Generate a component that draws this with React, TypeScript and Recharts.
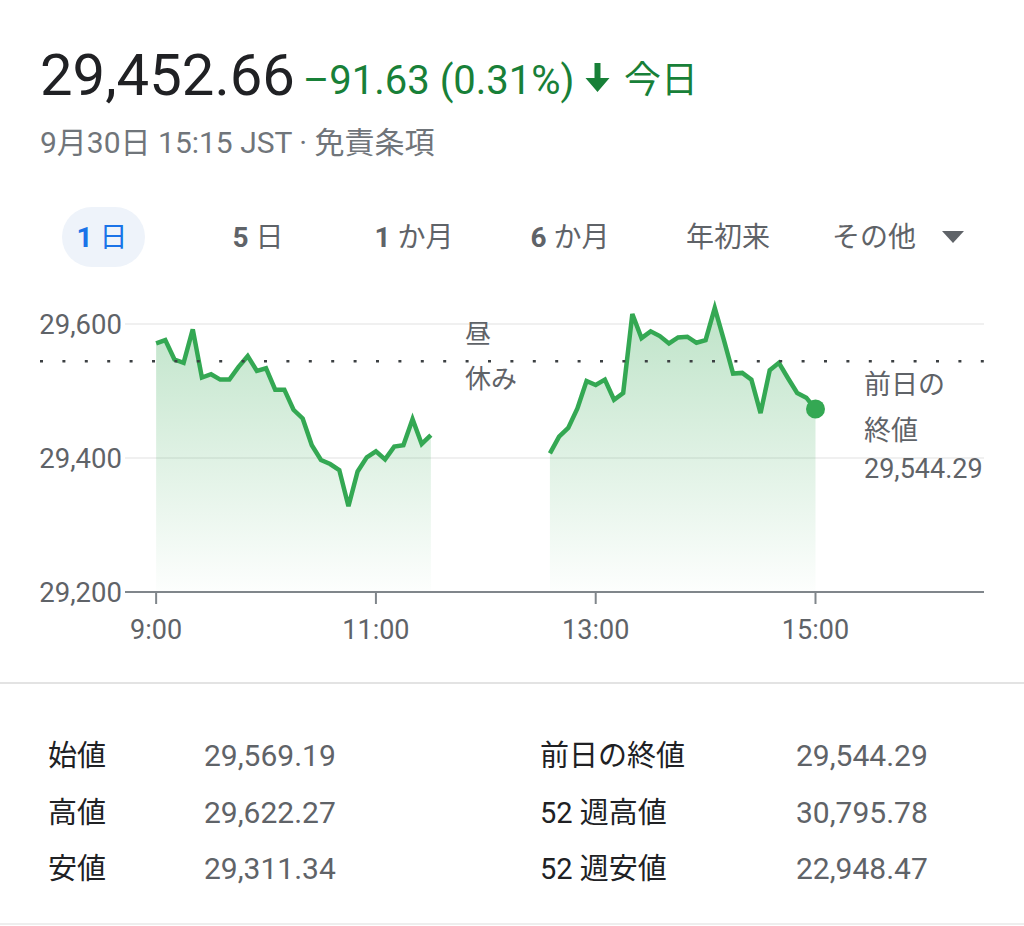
import React from 'react';
import {
  ComposedChart,
  Area,
  XAxis,
  YAxis,
  CartesianGrid,
  ReferenceLine,
  ReferenceDot,
} from 'recharts';

// ---------- data ----------
const morningTimes = [
  '9:00', '9:05', '9:10', '9:15', '9:20', '9:25', '9:30', '9:35', '9:40', '9:45',
  '9:50', '9:55', '10:00', '10:05', '10:10', '10:15', '10:20', '10:25', '10:30', '10:35',
  '10:40', '10:45', '10:50', '10:55', '11:00', '11:05', '11:10', '11:15', '11:20', '11:25',
  '11:30',
];
const morningValues = [
  29571, 29576, 29547, 29542, 29592, 29520, 29525, 29517, 29517, 29536,
  29552, 29530, 29534, 29502, 29502, 29472, 29459, 29419, 29397, 29391,
  29382, 29328, 29380, 29401, 29410, 29398, 29417, 29419, 29458, 29421,
  29434,
];
const lunchBreakTime = '12:00';
const afternoonTimes = [
  '12:35', '12:40', '12:45', '12:50', '12:55', '13:00', '13:05', '13:10', '13:15', '13:20',
  '13:25', '13:30', '13:35', '13:40', '13:45', '13:50', '13:55', '14:00', '14:05', '14:10',
  '14:15', '14:20', '14:25', '14:30', '14:35', '14:40', '14:45', '14:50', '14:55', '15:00',
];
const afternoonValues = [
  29407, 29432, 29445, 29474, 29515, 29509, 29517, 29487, 29497, 29615,
  29579, 29589, 29582, 29571, 29580, 29581, 29572, 29576, 29624, 29576,
  29526, 29527, 29517, 29467, 29531, 29542, 29519, 29497, 29490, 29473,
];
const previousClose = 29544.29;
const yTicks = [29200, 29400, 29600];
const gridValues = [29400, 29600];
const yDomain = [29200, 29700];
const xTickLabels = ['9:00', '11:00', '13:00', '15:00'];
const xDomainLabels = ['8:43', '16:32'];

const headerPrice = '29,452.66';
const headerChange = '–91.63 (0.31%)';
const headerDay = '今日';
const headerSub = '9月30日 15:15 JST · 免責条項';
const tabNums = ['1', '5', '1', '6', '', ''];
const tabTexts = [' 日', ' 日', ' か月', ' か月', '年初来', 'その他'];
const lunchLabel = ['昼', '休み'];
const prevCloseLabel = ['前日の', '終値', '29,544.29'];
const statLabelsLeft = ['始値', '高値', '安値'];
const statValuesLeft = ['29,569.19', '29,622.27', '29,311.34'];
const statLabelsRight = ['前日の終値', '52 週高値', '52 週安値'];
const statValuesRight = ['29,544.29', '30,795.78', '22,948.47'];

// ---------- helpers ----------
const toMin = (s: string) => {
  const [h, m] = s.split(':').map(Number);
  return h * 60 + m;
};
const fmtTime = (m: number) => `${Math.floor(m / 60)}:${String(m % 60).padStart(2, '0')}`;

const data: { t: number; v: number | null }[] = [
  ...morningTimes.map((t, i) => ({ t: toMin(t), v: morningValues[i] })),
  { t: toMin(lunchBreakTime), v: null },
  ...afternoonTimes.map((t, i) => ({ t: toMin(t), v: afternoonValues[i] })),
];
const lastPoint = {
  t: toMin(afternoonTimes[afternoonTimes.length - 1]),
  v: afternoonValues[afternoonValues.length - 1],
};

const GREEN = '#34a853';
const TEXT_GREEN = '#188038';
const GRAY = '#5f6368';
const DARK = '#202124';
const FONT = "Roboto, 'Noto Sans CJK JP', sans-serif";

const tabCenters = [102, 258, 414, 570, 728, 874];

export default function App() {
  return (
    <div style={{ position: 'absolute', left: 0, top: 0, width: 1024, height: 926, background: '#fff', fontFamily: FONT }}>
      <div style={{ position: 'absolute', left: 0, top: 0 }}>
        <ComposedChart
          width={1024}
          height={652}
          data={data}
          margin={{ top: 257, right: 40, left: 40, bottom: 0 }}
        >
          <defs>
            <linearGradient id="areaFill" x1="0" y1="0" x2="0" y2="1">
              <stop offset="0%" stopColor={GREEN} stopOpacity={0.32} />
              <stop offset="100%" stopColor={GREEN} stopOpacity={0.01} />
            </linearGradient>
          </defs>
          <CartesianGrid
            vertical={false}
            horizontalValues={gridValues}
            stroke="#f0f0f0"
            strokeWidth={2}
          />
          <XAxis
            dataKey="t"
            type="number"
            domain={[toMin(xDomainLabels[0]), toMin(xDomainLabels[1])]}
            ticks={xTickLabels.map(toMin)}
            tickFormatter={fmtTime}
            height={60}
            tickSize={12}
            tickMargin={16}
            axisLine={{ stroke: '#80868b', strokeWidth: 2 }}
            tickLine={{ stroke: '#80868b', strokeWidth: 2 }}
            tick={{ fill: GRAY, fontSize: 27, fontFamily: FONT }}
            allowDataOverflow
          />
          <YAxis
            type="number"
            domain={yDomain}
            ticks={yTicks}
            width={85}
            tickSize={0}
            tickMargin={3}
            axisLine={false}
            tickLine={false}
            tick={{ fill: GRAY, fontSize: 27.5, fontFamily: FONT }}
            tickFormatter={(v: number) => v.toLocaleString('en-US')}
            allowDataOverflow
          />
          <Area
            type="linear"
            dataKey="v"
            stroke={GREEN}
            strokeWidth={4.5}
            fill="url(#areaFill)"
            fillOpacity={1}
            dot={false}
            activeDot={false}
            isAnimationActive={false}
          />
          <ReferenceLine
            y={previousClose}
            shape={(p: any) => (
              <line
                x1={40}
                y1={p.y1}
                x2={p.x2}
                y2={p.y2}
                stroke="#3c4043"
                strokeWidth={2.5}
                strokeDasharray="3 19.4"
              />
            )}
          />
          <ReferenceDot x={lastPoint.t} y={lastPoint.v} r={9.5} fill={GREEN} stroke="none" />
        </ComposedChart>
      </div>

      <svg
        width={1024}
        height={926}
        style={{ position: 'absolute', left: 0, top: 0, pointerEvents: 'none' }}
        fontFamily={FONT}
      >
        {/* header */}
        <text x={40} y={95} fontSize={58} fill={DARK}>{headerPrice}</text>
        <text x={303} y={94} fontSize={40} fill={TEXT_GREEN}>{headerChange}</text>
        <path d="M594.5 63 H600.5 V78 H609.5 L597.5 92 L585.5 78 H594.5 Z" fill={TEXT_GREEN} />
        <text x={624} y={93} fontSize={37} fill={TEXT_GREEN}>{headerDay}</text>
        <text x={40} y={153} fontSize={30} fill="#70757a">{headerSub}</text>

        {/* tabs */}
        <rect x={62} y={207} width={83} height={60} rx={30} fill="#eef3fa" />
        {tabTexts.map((t, i) => (
          <text
            key={i}
            x={tabCenters[i]}
            y={247}
            fontSize={28}
            textAnchor="middle"
            fill={i === 0 ? '#1a73e8' : GRAY}
          >
            {tabNums[i] && <tspan fontWeight={700}>{tabNums[i]}</tspan>}
            <tspan>{t}</tspan>
          </text>
        ))}
        <path d="M942 231 L964 231 L953 243 Z" fill={GRAY} />

        {/* chart annotations */}
        <text x={465} y={343} fontSize={26} fill={GRAY}>{lunchLabel[0]}</text>
        <text x={465} y={388} fontSize={26} fill={GRAY}>{lunchLabel[1]}</text>
        <text x={864} y={394} fontSize={27} fill={GRAY}>{prevCloseLabel[0]}</text>
        <text x={864} y={440} fontSize={27} fill={GRAY}>{prevCloseLabel[1]}</text>
        <text x={864} y={478} fontSize={27} fill={GRAY}>{prevCloseLabel[2]}</text>

        {/* separators */}
        <rect x={0} y={682} width={1024} height={2} fill="#e3e3e3" />
        <rect x={0} y={923} width={1024} height={2} fill="#eeeeee" />

        {/* stats */}
        {statLabelsLeft.map((l, i) => (
          <text key={'ll' + i} x={48} y={766 + i * 56.5} fontSize={29} fill={DARK}>{l}</text>
        ))}
        {statValuesLeft.map((l, i) => (
          <text key={'vl' + i} x={204} y={766 + i * 56.5} fontSize={30} fill={GRAY}>{l}</text>
        ))}
        {statLabelsRight.map((l, i) => (
          <text key={'lr' + i} x={540} y={766 + i * 56.5} fontSize={29} fill={DARK}>{l}</text>
        ))}
        {statValuesRight.map((l, i) => (
          <text key={'vr' + i} x={796} y={766 + i * 56.5} fontSize={30} fill={GRAY}>{l}</text>
        ))}
      </svg>
    </div>
  );
}
